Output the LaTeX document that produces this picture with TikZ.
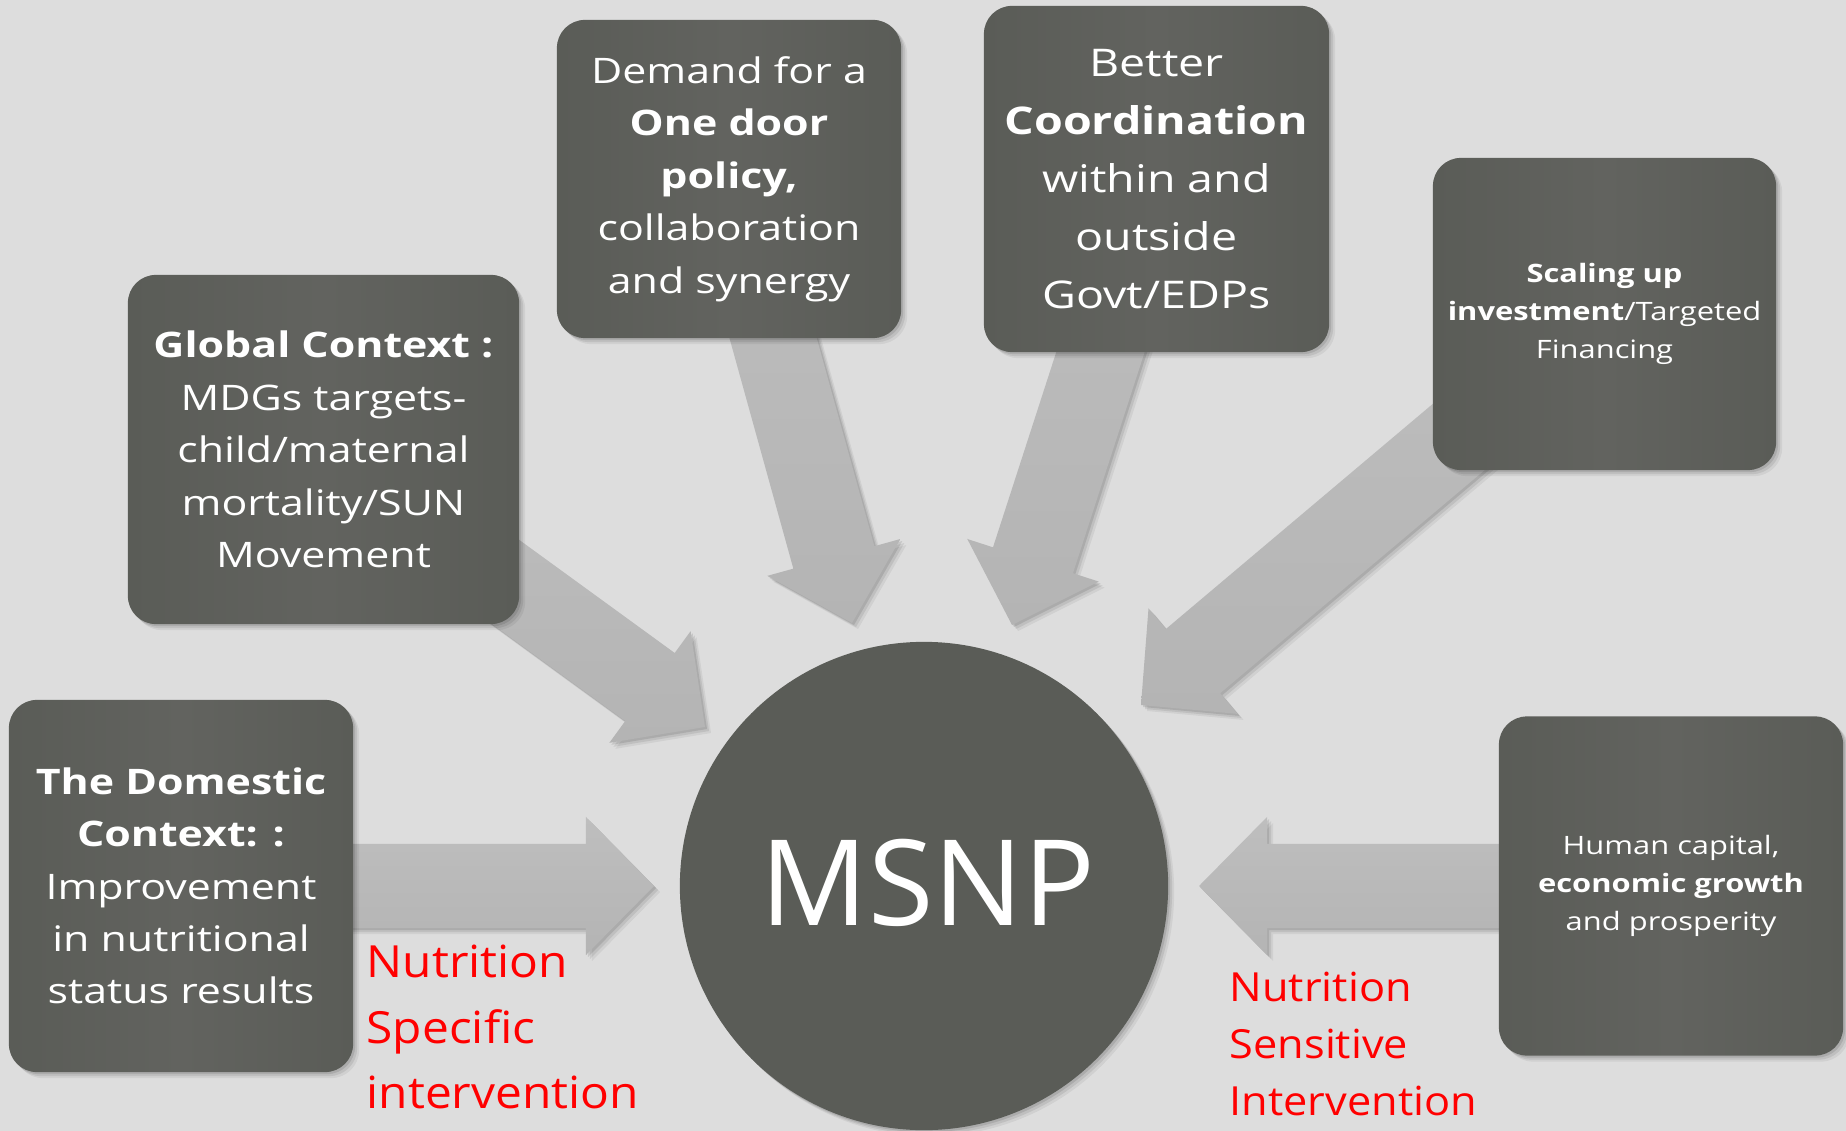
\documentclass[tikz,border=0pt]{standalone}
\usepackage{fontspec}
\setmainfont{Open Sans}
\newfontfamily\bxf{Open Sans}[FakeStretch=1.22]
\newfontfamily\redf{Open Sans}[FakeStretch=1.08]
\usetikzlibrary{calc,shadows}
\definecolor{bgcol}{RGB}{221,221,221}
\definecolor{boxgray}{RGB}{90,92,87}
\definecolor{boxlight}{RGB}{98,99,95}
\definecolor{arrowgray}{RGB}{180,180,180}
\definecolor{arrowlight}{RGB}{190,190,190}
\definecolor{redtxt}{RGB}{255,0,0}
\pgfdeclarelayer{bgl}
\pgfdeclarelayer{arrl}
\pgfsetlayers{bgl,arrl,main}
\tikzset{
  softshadow/.style={drop shadow={shadow xshift=0.02cm,shadow yshift=-0.02cm,opacity=0.10,fill=black},
                     drop shadow={shadow xshift=0.04cm,shadow yshift=-0.04cm,opacity=0.08,fill=black},
                     drop shadow={shadow xshift=0.06cm,shadow yshift=-0.06cm,opacity=0.06,fill=black}},
  gbox/.style={rounded corners=0.28cm, left color=boxgray, right color=boxgray, middle color=boxlight,
               text=white, align=center, inner sep=0pt, softshadow},
  bigtxt/.style={font=\bxf\fontsize{10pt}{14.9pt}\selectfont},
  midtxt/.style={font=\bxf\fontsize{10.85pt}{16.5pt}\selectfont},
  smalltxt/.style={font=\bxf\fontsize{7.2pt}{10.7pt}\selectfont},
  arrowfill/.style={top color=arrowlight, bottom color=arrowgray, softshadow},
  redlabel/.style={text=redtxt, align=left, inner sep=0pt}
}
\newcommand\blockarrow[2]{%
  \coordinate (#2-base) at ($(#2)!0.68cm!(#1)$);
  \path[arrowfill] ($(#1)!0.42cm!90:(#2)$) -- ($(#2-base)!0.42cm!90:(#2)$) -- ($(#2-base)!0.69cm!90:(#2)$) -- (#2)
    -- ($(#2-base)!0.69cm!-90:(#2)$) -- ($(#2-base)!0.42cm!-90:(#2)$) -- ($(#1)!0.42cm!-90:(#2)$) -- cycle;
}
\begin{document}
\begin{tikzpicture}[x=0.01cm,y=-0.01cm]
\begin{pgfonlayer}{bgl}
\fill[bgcol] (0,0) rectangle (1846,1131);
\end{pgfonlayer}
\useasboundingbox (0,0) rectangle (1846,1131);
\clip (0,0) rectangle (1846,1131);

% boxes
\node[gbox, bigtxt, minimum width=3.44cm, minimum height=3.72cm] (dom) at (181,886)
  {{\bfseries The Domestic}\\{\bfseries Context: :}\\Improvement\\in nutritional\\status results};
\node[gbox, bigtxt, minimum width=3.91cm, minimum height=3.49cm] (glob) at (323.5,449.5)
  {{\bfseries Global Context :}\\MDGs targets-\\child/maternal\\mortality/SUN\\Movement};
\node[gbox, bigtxt, minimum width=3.44cm, minimum height=3.18cm] (dem) at (729,179)
  {Demand for a\\{\bfseries One door}\\{\bfseries policy,}\\collaboration\\and synergy};
\node[gbox, midtxt, minimum width=3.45cm, minimum height=3.46cm] (bet) at (1156.5,179)
  {Better\\{\bfseries Coordination}\\within and\\outside\\Govt/EDPs};
\node[gbox, smalltxt, minimum width=3.43cm, minimum height=3.12cm] (sca) at (1604.5,314)
  {{\bfseries Scaling up}\\{\bfseries investment}/Targeted\\Financing};
\node[gbox, smalltxt, minimum width=3.44cm, minimum height=3.39cm] (hum) at (1671,886)
  {Human capital,\\{\bfseries economic growth}\\and prosperity};

% centre
\node[circle, fill=boxgray, minimum size=4.88cm, inner sep=0pt, softshadow] (msnp) at (924,886) {};
\node[text=white, anchor=base, inner sep=0pt, font=\fontsize{33.9pt}{37pt}\selectfont] (msnpt) at (928,925) {MSNP};

% arrow tips
\coordinate (pDom) at (654,886);
\coordinate (pHum) at (1199,886);
\coordinate (pGlob) at (705,727);
\coordinate (pDem) at (852,623);
\coordinate (pBet) at (1012,625);
\coordinate (pSca) at (1141,705);

\begin{pgfonlayer}{arrl}
\blockarrow{dom.center}{pDom}
\blockarrow{hum.center}{pHum}
\blockarrow{glob.center}{pGlob}
\blockarrow{dem.center}{pDem}
\blockarrow{bet.center}{pBet}
\blockarrow{sca.center}{pSca}
\end{pgfonlayer}

% red labels
\node[redlabel, anchor=west, font=\redf\fontsize{12.6pt}{18.5pt}\selectfont] (spec) at (366,1027)
  {Nutrition\\Specific\\intervention};
\node[redlabel, anchor=west, font=\redf\fontsize{11.4pt}{16.1pt}\selectfont] (sens) at (1229,1044)
  {Nutrition\\Sensitive\\Intervention};
\end{tikzpicture}
\end{document}
